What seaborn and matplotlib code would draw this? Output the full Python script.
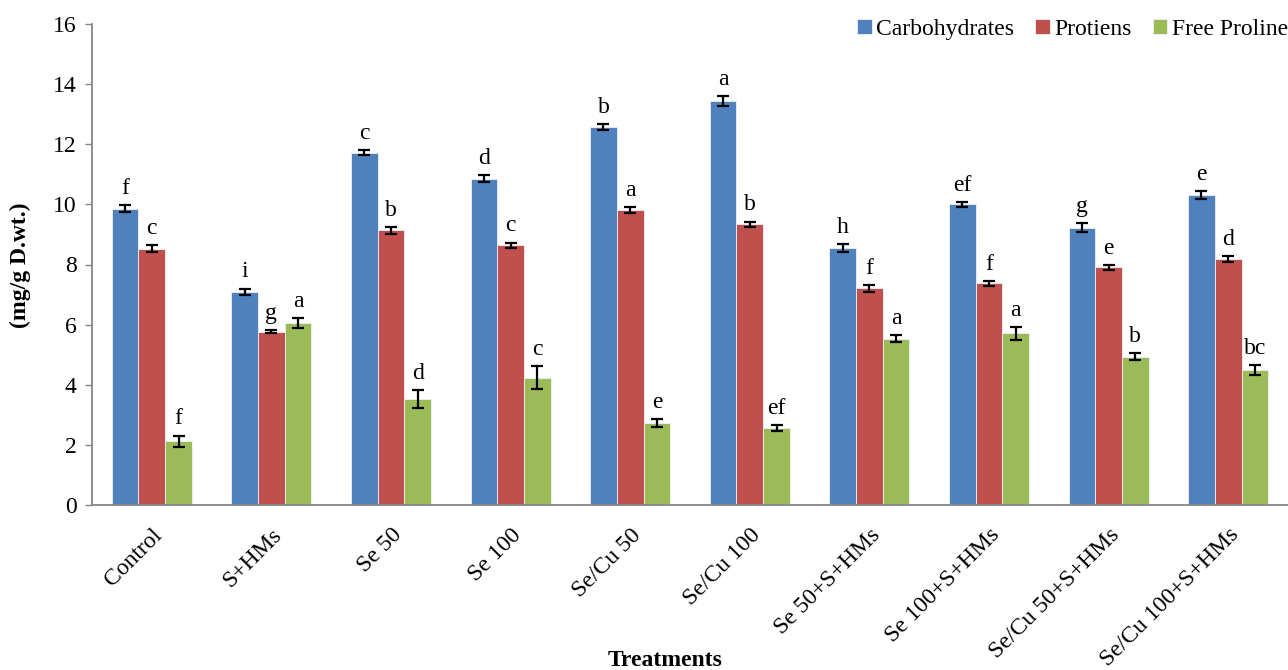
import pandas as pd
import seaborn as sns
import matplotlib.pyplot as plt

treatments = ["Control", "S+HMs", "Se 50", "Se 100", "Se/Cu 50", "Se/Cu 100",
              "Se 50+S+HMs", "Se 100+S+HMs", "Se/Cu 50+S+HMs", "Se/Cu 100+S+HMs"]
series = ["Carbohydrates", "Protiens", "Free Proline"]

carbohydrates = [9.86, 7.10, 11.72, 10.86, 12.58, 13.43, 8.54, 10.00, 9.23, 10.30]
proteins = [8.53, 5.76, 9.14, 8.64, 9.81, 9.34, 7.21, 7.38, 7.91, 8.19]
proline = [2.12, 6.05, 3.52, 4.24, 2.73, 2.56, 5.53, 5.71, 4.93, 4.49]

carb_err = [0.13, 0.10, 0.09, 0.11, 0.10, 0.16, 0.14, 0.08, 0.14, 0.13]
prot_err = [0.13, 0.05, 0.12, 0.09, 0.11, 0.09, 0.12, 0.08, 0.08, 0.10]
prol_err = [0.19, 0.16, 0.31, 0.39, 0.12, 0.11, 0.12, 0.22, 0.12, 0.16]

carb_letters = ["f", "i", "c", "d", "b", "a", "h", "ef", "g", "e"]
prot_letters = ["c", "g", "b", "c", "a", "b", "f", "f", "e", "d"]
prol_letters = ["f", "a", "d", "c", "e", "ef", "a", "a", "b", "bc"]

colors = ["#4F81BD", "#C0504D", "#9BBB59"]

df = pd.DataFrame({
    "treatment": treatments * 3,
    "series": [s for s in series for _ in treatments],
    "value": carbohydrates + proteins + proline,
})
errs = [carb_err, prot_err, prol_err]
letters = [carb_letters, prot_letters, prol_letters]

sns.set_style("white")
plt.rcParams["font.family"] = ["Liberation Serif", "DejaVu Serif"]
plt.rcParams["text.color"] = "black"
plt.rcParams["xtick.color"] = "black"
plt.rcParams["ytick.color"] = "black"

FS = 17

fig = plt.figure(figsize=(12.88, 6.7), dpi=100)
ax = fig.add_axes([92 / 1288, 165 / 670, 1 - 92 / 1288, (505 - 24) / 670])

sns.barplot(data=df, x="treatment", y="value", hue="series", palette=colors,
            saturation=1, errorbar=None, width=0.67, gap=0, edgecolor="#eef2f8",
            linewidth=0.6, ax=ax)

# error bars and significance letters
for cont, err, lab in zip(ax.containers, errs, letters):
    xs = [p.get_x() + p.get_width() / 2 for p in cont.patches]
    ys = [p.get_height() for p in cont.patches]
    ax.errorbar(xs, ys, yerr=err, fmt="none", ecolor="black", elinewidth=1.6,
                capsize=4.5, capthick=1.6, zorder=5)
    for x, y, e, t in zip(xs, ys, err, lab):
        ax.annotate(t, (x, y + e), xytext=(0, 8), textcoords="offset points",
                    ha="center", va="baseline", fontsize=FS)

ax.set_ylim(0, 16)
ax.set_yticks(range(0, 17, 2))
ax.set_xlim(-0.5, len(treatments) - 0.5)
ax.tick_params(axis="y", which="major", direction="out", length=5, width=1,
               color="#868686", labelcolor="black", labelsize=FS, left=True, pad=6)
ax.tick_params(axis="x", length=0, labelsize=FS, labelcolor="black", pad=14)
plt.setp(ax.get_xticklabels(), rotation=45, ha="right", rotation_mode="anchor")
for s in ["top", "right"]:
    ax.spines[s].set_visible(False)
for s in ["left", "bottom"]:
    ax.spines[s].set_color("#868686")
    ax.spines[s].set_linewidth(1.3)

ax.set_xlabel("")
ax.set_ylabel("")
fig.text(20 / 1288, 1 - 265 / 670, "(mg/g D.wt.)", rotation=90, ha="center",
         va="center", fontsize=FS, fontweight="bold")
fig.text(665 / 1288, 1 - 660 / 670, "Treatments", ha="center", va="center",
         fontsize=FS, fontweight="bold")

ax.legend(loc="upper right", bbox_to_anchor=(1.0, 1.01), ncol=3, frameon=False,
          fontsize=FS, handlelength=0.6, handleheight=0.6, handletextpad=0.2,
          columnspacing=0.9, borderaxespad=0, borderpad=0)

plt.savefig("out.png", dpi=100)
